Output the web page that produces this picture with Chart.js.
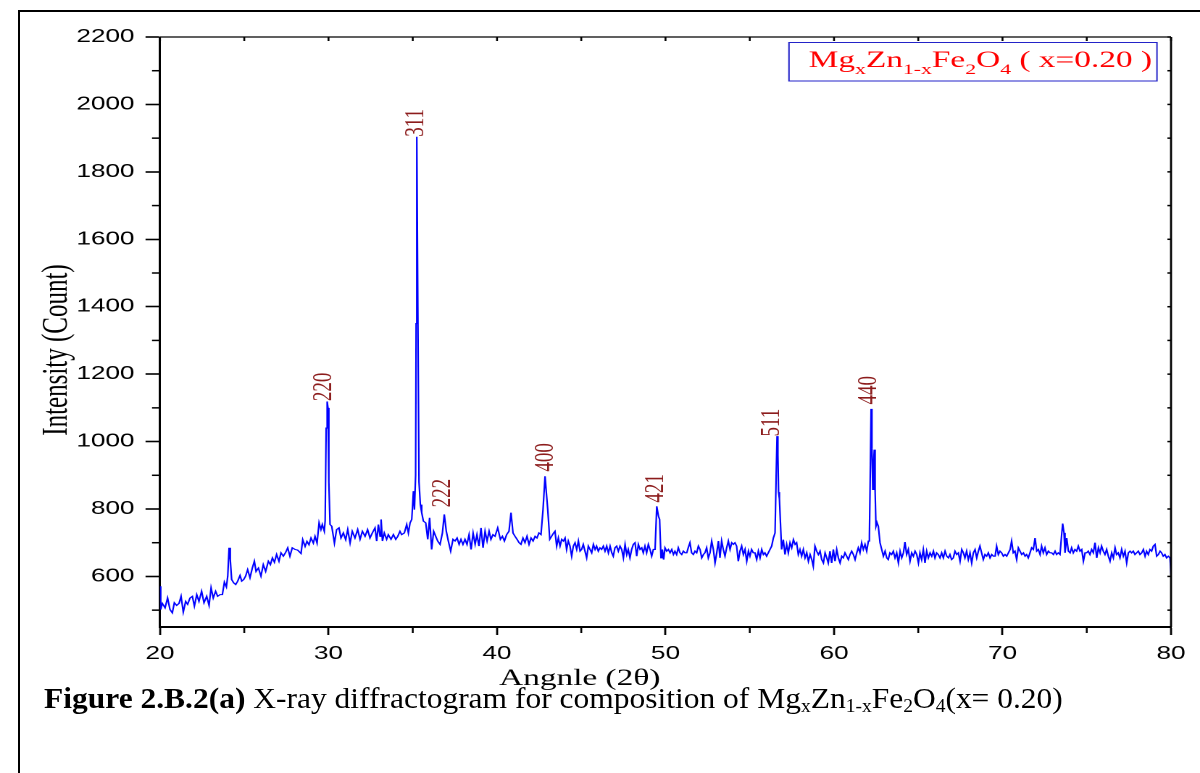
<!DOCTYPE html>
<html>
<head>
<meta charset="utf-8">
<script src="https://cdn.jsdelivr.net/npm/chart.js@4.4.1/dist/chart.umd.min.js"></script>
<style>
html, body { margin: 0; padding: 0; background: #fff; overflow: hidden; width: 1200px; height: 773px; }
#frame { position: absolute; left: 18px; top: 10px; width: 1400px; height: 1000px; border: 2px solid #000; box-sizing: border-box; }
/* the plot was pasted into the document stretched sideways */
#chart { position: absolute; left: 0; top: 0; transform: scaleX(1.449275); transform-origin: 0 0; }
#caption { position: absolute; left: 44px; top: 683px; font-family: "Liberation Serif", "Times New Roman", serif;
           font-size: 30px; line-height: 1; white-space: nowrap; transform-origin: 0 0; color: #000; }
#caption sub { font-size: 0.62em; vertical-align: -0.2em; line-height: 0; }
</style>
</head>
<body>
<div id="frame"></div>
<canvas id="chart" width="828" height="700"></canvas>
<div id="caption"><b>Figure 2.B.2(a)</b> X-ray diffractogram for composition of Mg<sub>x</sub>Zn<sub>1-x</sub>Fe<sub>2</sub>O<sub>4</sub>(x= 0.20)</div>
<script>
// 2-theta (deg) and counts
const angles = [
  20.00, 20.04, 20.14, 20.30, 20.45, 20.59, 20.73, 20.85, 20.99, 21.13, 21.25, 21.38, 21.52, 21.64, 21.78, 21.92,
  22.04, 22.18, 22.31, 22.47, 22.61, 22.77, 22.91, 23.03, 23.16, 23.30, 23.42, 23.56, 23.70, 23.82, 23.94, 24.02,
  24.10, 24.17, 24.25, 24.37, 24.49, 24.61, 24.75, 24.85, 24.97, 25.08, 25.20, 25.34, 25.48, 25.60, 25.70, 25.84,
  25.99, 26.13, 26.27, 26.43, 26.55, 26.67, 26.79, 26.92, 27.06, 27.18, 27.32, 27.46, 27.58, 27.71, 27.85, 28.01,
  28.17, 28.37, 28.47, 28.61, 28.72, 28.84, 28.96, 29.10, 29.20, 29.32, 29.44, 29.55, 29.63, 29.75, 29.80, 29.86,
  29.92, 29.97, 30.02, 30.09, 30.19, 30.35, 30.48, 30.62, 30.74, 30.88, 31.02, 31.14, 31.28, 31.41,
  31.57, 31.73, 31.87, 32.01, 32.17, 32.32, 32.46, 32.60, 32.76, 32.86, 32.96, 33.06, 33.12, 33.20, 33.31, 33.45,
  33.55, 33.71, 33.85, 33.99, 34.11, 34.24, 34.34, 34.50, 34.64, 34.74, 34.84, 34.94, 35.04, 35.10, 35.17, 35.20,
  35.24, 35.30, 35.37, 35.45, 35.53, 35.63, 35.77, 35.89, 36.00, 36.12, 36.24, 36.36, 36.48, 36.62, 36.76, 36.87,
  36.99, 37.11, 37.25, 37.39, 37.51, 37.63, 37.75, 37.86, 37.98, 38.10, 38.22, 38.34, 38.46, 38.58, 38.70, 38.81,
  38.93, 39.05, 39.17, 39.29, 39.41, 39.53, 39.64, 39.76, 39.88, 40.04, 40.20, 40.32, 40.44, 40.57, 40.71, 40.83,
  40.95, 41.07, 41.19, 41.31, 41.42, 41.54, 41.66, 41.78, 41.90, 42.02, 42.14, 42.26, 42.37, 42.49, 42.61, 42.73,
  42.85, 43.01, 43.13, 43.24, 43.36,
  43.44, 43.54, 43.64, 43.74, 43.84, 43.94, 44.04, 44.13, 44.23, 44.33, 44.43, 44.53, 44.63, 44.73, 44.83, 44.93,
  45.02, 45.12, 45.22, 45.32, 45.42, 45.52, 45.62, 45.72, 45.82, 45.91, 46.01, 46.11, 46.21, 46.31, 46.41, 46.51,
  46.61, 46.71, 46.81, 46.90, 47.00, 47.10, 47.20, 47.30, 47.40, 47.50, 47.60, 47.70, 47.79, 47.89, 47.99, 48.09,
  48.19, 48.29, 48.39, 48.49, 48.59, 48.68, 48.78, 48.88, 48.98, 49.08, 49.18, 49.28, 49.38, 49.48, 49.58, 49.65,
  49.73, 49.81, 49.89, 49.97, 50.07, 50.17, 50.27, 50.37, 50.47, 50.56, 50.66, 50.76, 50.86, 50.96, 51.06, 51.16,
  51.26, 51.35, 51.45, 51.55, 51.65, 51.75, 51.85, 51.95, 52.05, 52.15, 52.25, 52.34, 52.44, 52.54, 52.64, 52.74,
  52.84, 52.94, 53.04, 53.14, 53.23, 53.33, 53.43, 53.53, 53.63, 53.73, 53.83, 53.93, 54.03, 54.12, 54.22, 54.32,
  54.42, 54.52, 54.62, 54.72, 54.82, 54.92, 55.01, 55.11, 55.21,
  55.31, 55.41, 55.51, 55.61, 55.71, 55.81, 55.90, 56.00, 56.10, 56.20, 56.30, 56.40, 56.50, 56.56, 56.62, 56.67,
  56.71, 56.76, 56.82, 56.89, 56.99, 57.09, 57.19, 57.29, 57.39, 57.49, 57.59, 57.69, 57.78, 57.88, 57.98, 58.08,
  58.18, 58.28, 58.38, 58.48, 58.58, 58.68, 58.77, 58.87, 58.97, 59.07, 59.17, 59.27, 59.37, 59.47, 59.57, 59.66,
  59.76, 59.86, 59.96, 60.06, 60.16, 60.26, 60.36, 60.46, 60.55, 60.65, 60.75, 60.85, 60.95, 61.05, 61.15, 61.25,
  61.35, 61.44, 61.54, 61.64, 61.74, 61.84, 61.94, 62.04, 62.10, 62.15, 62.20, 62.25, 62.30, 62.35, 62.39, 62.44,
  62.49, 62.55, 62.63, 62.73, 62.83, 62.93, 63.03, 63.13, 63.22, 63.32, 63.42, 63.52, 63.62, 63.72, 63.82, 63.92,
  64.02, 64.12, 64.21, 64.31, 64.41, 64.51, 64.61, 64.71, 64.81, 64.91, 65.01, 65.10, 65.20, 65.30, 65.40, 65.50,
  65.60, 65.70, 65.80, 65.90, 65.99, 66.09, 66.19, 66.29, 66.39, 66.49, 66.59, 66.69, 66.79, 66.88, 66.98, 67.08,
  67.18, 67.28, 67.38, 67.48, 67.58, 67.68, 67.77, 67.87, 67.97, 68.07, 68.17, 68.27, 68.37, 68.47, 68.57, 68.66,
  68.76, 68.86, 68.96, 69.06, 69.16, 69.26, 69.36, 69.46, 69.56, 69.65, 69.75, 69.85, 69.95, 70.05, 70.15, 70.25,
  70.35, 70.45, 70.54, 70.64, 70.74, 70.84, 70.94, 71.04, 71.14, 71.24, 71.34, 71.43, 71.53, 71.63, 71.73, 71.83,
  71.93, 72.03, 72.13, 72.23, 72.32, 72.42, 72.52, 72.62, 72.72, 72.82, 72.92, 73.02, 73.12, 73.21, 73.31, 73.41,
  73.51, 73.57, 73.65, 73.71, 73.81, 73.91, 74.01, 74.10, 74.20, 74.30, 74.40, 74.50, 74.60, 74.70, 74.80, 74.90,
  74.99, 75.09, 75.19, 75.29, 75.39, 75.49, 75.59, 75.69, 75.79, 75.88, 75.98, 76.08, 76.18, 76.28, 76.38, 76.48,
  76.58, 76.68, 76.77, 76.87, 76.97, 77.07, 77.17, 77.27, 77.37, 77.47, 77.57, 77.66, 77.76, 77.86, 77.96, 78.06,
  78.16, 78.26, 78.36, 78.46, 78.55, 78.65, 78.75, 78.85, 78.95, 79.05, 79.15, 79.25, 79.35, 79.44, 79.54, 79.64,
  79.74, 79.84, 79.94, 80.00
];
const counts = [
  571, 502, 520, 507, 536, 502, 492, 522, 514, 520, 541, 494, 526, 517, 536, 541,
  512, 546, 526, 556, 522, 541, 514, 566, 536, 556, 541, 546, 546, 583, 569, 601,
  685, 650, 591, 581, 576, 586, 603, 586, 591, 601, 620, 596, 625, 645, 615, 625,
  601, 635, 615, 645, 635, 655, 642, 665, 645, 670, 660, 672, 685, 660, 685, 680,
  678, 668, 709, 689, 704, 694, 714, 699, 719, 699, 759, 739, 754, 734, 765, 1040,
  1119, 1100, 880, 754, 749, 699, 739, 744, 714, 729, 709, 739, 699, 734,
  714, 739, 710, 734, 719, 739, 714, 729, 744, 705, 754, 719, 769, 705, 729, 710,
  724, 710, 724, 710, 719, 734, 724, 729, 754, 729, 759, 769, 853, 798, 900, 1350,
  1904, 1400, 880, 813, 789, 764, 759, 710, 774, 680, 734, 719, 705, 695, 729, 784,
  734, 705, 675, 710, 705, 714, 695, 710, 695, 710, 695, 724, 680, 729, 695, 724,
  690, 744, 685, 734, 705, 734, 710, 724, 719, 744, 710, 719, 705, 724, 734, 789,
  729, 719, 710, 700, 695, 714, 700, 719, 695, 714, 705, 719, 714, 729, 724, 798,
  897, 798, 710, 719, 729,
  734, 690, 714, 690, 710, 705, 714, 680, 705, 690, 660, 690, 700, 680, 705, 675,
  680, 695, 675, 655, 690, 680, 670, 695, 680, 690, 675, 685, 680, 690, 675, 690,
  670, 690, 670, 660, 685, 690, 675, 690, 680, 655, 695, 665, 680, 655, 680, 695,
  700, 660, 695, 680, 685, 670, 690, 670, 695, 680, 660, 680, 680, 808, 779, 769,
  655, 680, 650, 685, 675, 680, 670, 680, 665, 675, 665, 685, 670, 665, 675, 670,
  670, 685, 700, 670, 665, 675, 670, 690, 680, 655, 665, 670, 685, 655, 670, 705,
  680, 640, 670, 705, 655, 705, 680, 660, 685, 705, 680, 700, 695, 700, 690, 645,
  675, 690, 665, 680, 645, 675, 660, 680, 670,
  670, 650, 675, 655, 680, 665, 670, 660, 670, 680, 690, 714, 729, 880, 1016, 960,
  850, 830, 760, 680, 709, 665, 695, 670, 700, 685, 709, 695, 700, 665, 680, 660,
  680, 655, 670, 645, 665, 650, 630, 690, 675, 665, 675, 650, 640, 670, 655, 640,
  675, 640, 680, 645, 680, 655, 640, 660, 655, 670, 660, 650, 665, 675, 665, 650,
  670, 685, 670, 700, 680, 695, 675, 705, 720, 900, 1097, 980, 858, 940, 976, 850,
  749, 760, 749, 700, 680, 660, 675, 655, 650, 670, 665, 675, 655, 670, 640, 675,
  655, 670, 702, 665, 680, 645, 670, 660, 675, 665, 640, 670, 650, 680, 640, 675,
  655, 670, 660, 675, 655, 670, 665, 655, 670, 655, 675, 660, 655, 665, 650, 655,
  675, 665, 670, 645, 680, 670, 655, 675, 650, 670, 640, 670, 680, 655, 675, 690,
  670, 650, 665, 660, 670, 655, 665, 660, 660, 690, 665, 675, 670, 660, 665, 660,
  670, 680, 705, 670, 675, 650, 685, 675, 665, 670, 660, 665, 655, 670, 685, 680,
  714, 675, 680, 665, 690, 670, 685, 665, 675, 670, 670, 665, 675, 665, 670, 665,
  724, 757, 729, 670, 714, 675, 670, 685, 670, 680, 675, 690, 675, 680, 645, 670,
  670, 675, 665, 680, 670, 700, 655, 685, 670, 690, 675, 665, 680, 660, 645, 670,
  655, 685, 665, 670, 655, 680, 660, 675, 640, 670, 675, 670, 675, 665, 670, 675,
  665, 670, 680, 660, 675, 665, 680, 675, 690, 695, 660, 665, 675, 670, 660, 665,
  655, 660, 655, 605
];

// Miller indices written over the reflections (label foot, in data units)
const peakNames = ['220', '311', '222', '400', '421', '511', '440'];
const peakAngle = [29.73, 35.19, 36.80, 42.91, 49.44, 56.32, 62.08];
const peakTop   = [1120, 1904, 805, 911, 819, 1015, 1110];

const xTicks = [20, 30, 40, 50, 60, 70, 80];
const xMinor = [25, 35, 45, 55, 65, 75];
const yTicks = [600, 800, 1000, 1200, 1400, 1600, 1800, 2000, 2200];
const yMinor = [500, 700, 900, 1100, 1300, 1500, 1700, 1900, 2100];

const legendParts = [['Mg', 0], ['x', 1], ['Zn', 0], ['1-x', 1], ['Fe', 0], ['2', 1], ['O', 0], ['4', 1], [' ( x=0.20 )', 0]];
const xTitle = 'Angnle (2\u03b8)';
const yTitle = 'Intensity (Count)';

const SX = 1200 / 828;
const AREA_L = 160 / SX, AREA_R = 1171 / SX;
const SERIF = '"Liberation Serif", "Times New Roman", serif';
const SANS = '"Liberation Sans", Arial, sans-serif';

function seg(ctx, x1, y1, x2, y2) {
    ctx.beginPath(); ctx.moveTo(x1, y1); ctx.lineTo(x2, y2); ctx.stroke();
}

const decor = {
    id: 'decor',
    afterDraw(chart) {
        const { ctx, chartArea: a, scales: { x, y } } = chart;
        ctx.save();
        ctx.strokeStyle = '#000';

        // closing frame + small ticks
        ctx.lineWidth = 1.4; seg(ctx, a.right, a.top, a.right, a.bottom);
        ctx.lineWidth = 1.3; seg(ctx, a.left, a.top, a.right, a.top);
        ctx.lineWidth = 1.5;
        yMinor.forEach(v => { const p = y.getPixelForValue(v); seg(ctx, a.left - 5.5, p, a.left, p); });
        yTicks.concat(yMinor).forEach(v => { const p = y.getPixelForValue(v); seg(ctx, a.right - 2.5, p, a.right, p); });
        ctx.lineWidth = 1.3;
        xMinor.forEach(v => { const p = x.getPixelForValue(v); seg(ctx, p, a.bottom, p, a.bottom + 6); });
        xTicks.concat(xMinor).forEach(v => { const p = x.getPixelForValue(v); seg(ctx, p, a.top, p, a.top + 4); });

        // peak indices
        ctx.fillStyle = '#8c1c1c';
        ctx.font = `19px ${SERIF}`;
        ctx.textAlign = 'left'; ctx.textBaseline = 'middle';
        peakNames.forEach((name, i) => {
            ctx.save();
            ctx.translate(x.getPixelForValue(peakAngle[i]), y.getPixelForValue(peakTop[i]));
            ctx.rotate(-Math.PI / 2);
            ctx.fillText(name, 0, 0);
            ctx.restore();
        });

        // legend box
        ctx.strokeStyle = '#2323c8'; ctx.lineWidth = 1;
        ctx.strokeRect(544.4, 42.5, 253.9, 38.5);
        ctx.fillStyle = '#ff0000'; ctx.textBaseline = 'alphabetic';
        let tx = 558;
        legendParts.forEach(([t, sub]) => {
            ctx.font = sub ? `15px ${SERIF}` : `23px ${SERIF}`;
            ctx.fillText(t, tx, sub ? 74 : 67);
            tx += ctx.measureText(t).width;
        });

        // axis titles
        ctx.fillStyle = '#000'; ctx.textAlign = 'center'; ctx.textBaseline = 'middle';
        ctx.font = `23px ${SERIF}`;
        ctx.fillText(xTitle, 400, 679);
        ctx.save();
        ctx.translate(39.3, 350); ctx.rotate(-Math.PI / 2);
        ctx.font = `25px ${SERIF}`;
        ctx.fillText(yTitle, 0, 0);
        ctx.restore();

        ctx.restore();
    }
};

new Chart(document.getElementById('chart'), {
    type: 'line',
    data: {
        datasets: [{
            data: angles.map((a, i) => ({ x: a, y: counts[i] })),
            borderColor: '#0000ff', borderWidth: 1.1, pointRadius: 0, tension: 0, fill: false,
        }],
    },
    options: {
        responsive: false, animation: false, devicePixelRatio: 2,
        layout: { padding: { left: 0, right: 828 - AREA_R, top: 37, bottom: 0 } },
        plugins: { legend: { display: false }, tooltip: { enabled: false } },
        scales: {
            x: {
                type: 'linear', min: 20, max: 80,
                afterBuildTicks: s => { s.ticks = xTicks.map(v => ({ value: v })); },
                afterFit: s => { s.height = 700 - 627; },
                ticks: { font: { family: SANS, size: 18 }, color: '#000', padding: 8, maxRotation: 0, autoSkip: false,
                         callback: v => String(v) },
                grid: { drawOnChartArea: false, tickLength: 8, tickWidth: 1.4, tickColor: '#000' },
                border: { color: '#000', width: 2 },
            },
            y: {
                min: 450, max: 2200,
                afterBuildTicks: s => { s.ticks = yTicks.map(v => ({ value: v })); },
                afterFit: s => { s.width = AREA_L; },
                ticks: { font: { family: SANS, size: 18 }, color: '#000', padding: 7.6, autoSkip: false,
                         callback: v => String(v) },
                grid: { drawOnChartArea: false, tickLength: 10, tickWidth: 1.6, tickColor: '#000' },
                border: { color: '#000', width: 1.5 },
            },
        },
    },
    plugins: [decor],
});

// caption in the reference is set narrow: squeeze it to its printed width
const cap = document.getElementById('caption');
cap.style.transform = `scaleX(${1019 / cap.offsetWidth})`;
</script>
</body>
</html>
